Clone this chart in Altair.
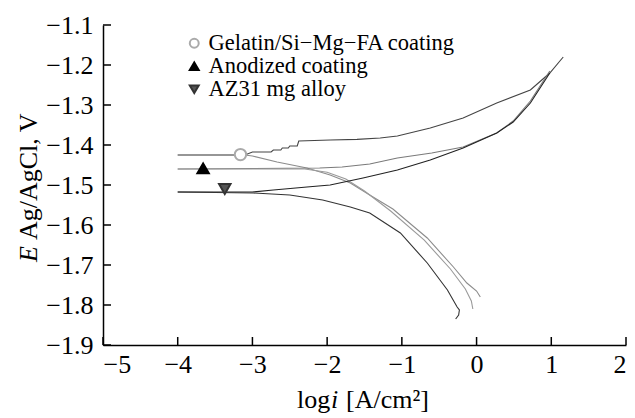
import altair as alt
import pandas as pd

# ---- data ----
gel_an_x = [-4.0, -3.1, -3.0, -2.75, -2.72, -2.62, -2.6, -2.52, -2.5, -2.4, -2.38, -1.96, -1.6, -1.29, -1.06, -0.62, -0.18, 0.27, 0.72, 0.98, 1.16]
gel_an_y = [-1.425, -1.425, -1.4175, -1.4175, -1.4125, -1.4125, -1.4075, -1.4075, -1.4025, -1.4025, -1.39, -1.3875, -1.386, -1.3825, -1.3775, -1.3575, -1.3325, -1.295, -1.2625, -1.22, -1.18]
gel_ca_x = [-4.0, -3.1, -3.0, -2.67, -2.27, -1.96, -1.69, -1.43, -1.12, -0.66, -0.31, -0.13, 0.0, 0.05]
gel_ca_y = [-1.425, -1.425, -1.4275, -1.4425, -1.4575, -1.475, -1.495, -1.525, -1.56, -1.6325, -1.705, -1.745, -1.765, -1.78]

ano_an_x = [-4.0, -2.1, -1.8, -1.43, -1.06, -0.6, -0.18, 0.27, 0.49, 0.72, 0.98]
ano_an_y = [-1.46, -1.4575, -1.455, -1.4475, -1.4325, -1.42, -1.405, -1.37, -1.34, -1.29, -1.215]
ano_ca_x = [-4.0, -2.3, -2.0, -1.75, -1.5, -1.15, -0.7, -0.35, -0.15, -0.07, -0.05]
ano_ca_y = [-1.46, -1.46, -1.468, -1.485, -1.515, -1.565, -1.638, -1.71, -1.76, -1.79, -1.81]

az_an_x = [-4.0, -3.0, -2.72, -2.27, -1.96, -1.52, -1.06, -0.62, -0.18, 0.27, 0.49, 0.72, 0.98]
az_an_y = [-1.5175, -1.5175, -1.5125, -1.505, -1.5, -1.4825, -1.4625, -1.4375, -1.4075, -1.37, -1.3425, -1.295, -1.22]
az_ca_x = [-4.0, -2.99, -2.5, -2.06, -1.69, -1.43, -1.02, -0.66, -0.39, -0.26, -0.23, -0.24, -0.28]
az_ca_y = [-1.5175, -1.52, -1.525, -1.5375, -1.555, -1.57, -1.62, -1.695, -1.7625, -1.805, -1.8125, -1.825, -1.835]

series_names = ["Gelatin/Si\u2212Mg\u2212FA coating", "Anodized coating", "AZ31 mg alloy"]
marker_x = [-3.16, -3.66, -3.37]
marker_y = [-1.424, -1.4585, -1.51]

x_ticks = [-5, -4, -3, -2, -1, 0, 1, 2]
y_ticks = [-1.9, -1.8, -1.7, -1.6, -1.5, -1.4, -1.3, -1.2, -1.1]

# ---- build tables ----
branches = [
    ("gel_an", gel_an_x, gel_an_y),
    ("gel_ca", gel_ca_x, gel_ca_y),
    ("ano_an", ano_an_x, ano_an_y),
    ("ano_ca", ano_ca_x, ano_ca_y),
    ("az_an", az_an_x, az_an_y),
    ("az_ca", az_ca_x, az_ca_y),
]
rows = []
for key, xs, ys in branches:
    for i, (xv, yv) in enumerate(zip(xs, ys)):
        rows.append({"key": key, "order": i, "x": xv, "y": yv})
lines_df = pd.DataFrame(rows)
markers_df = pd.DataFrame({"series": series_names, "x": marker_x, "y": marker_y})
xt_df = pd.DataFrame({"t": x_ticks})
yt_df = pd.DataFrame({"t": y_ticks})

FONT = "Liberation Serif"
W, H = 523, 320

xscale = alt.Scale(domain=[-5, 2], nice=False, zero=False)
yscale = alt.Scale(domain=[-1.9, -1.1], nice=False, zero=False)

x_axis = alt.Axis(values=x_ticks, format="d", title=None, ticks=False, grid=False,
                  labelFont=FONT, labelFontSize=26, labelColor="black", labelOverlap=False,
                  labelPadding=6, domainColor="black", domainWidth=1.5)
y_axis = alt.Axis(values=y_ticks, format=".1f", title=None, ticks=False, grid=False,
                  labelFont=FONT, labelFontSize=26, labelColor="black", labelOverlap=False,
                  labelPadding=10, domainColor="black", domainWidth=1.5)

line_keys = ["gel_an", "gel_ca", "ano_an", "ano_ca", "az_an", "az_ca"]
line_cols = ["#444444", "#8c8c8c", "#7a7a7a", "#9a9a9a", "#222222", "#333333"]

lines = alt.Chart(lines_df).mark_line(strokeWidth=1.1).encode(
    x=alt.X("x:Q", scale=xscale, axis=x_axis),
    y=alt.Y("y:Q", scale=yscale, axis=y_axis),
    color=alt.Color("key:N", scale=alt.Scale(domain=line_keys, range=line_cols), legend=None),
    detail="key:N",
    order="order:Q",
)

leg = alt.Legend(title=None, orient="none", legendX=80, legendY=7,
                 labelFont=FONT, labelFontSize=22.5, labelColor="black", symbolSize=80,
                 symbolStrokeWidth=2, rowPadding=0, labelOffset=3, padding=0, labelLimit=500)

markers = alt.Chart(markers_df).mark_point(filled=True, size=130, strokeWidth=2, opacity=1).encode(
    x=alt.X("x:Q", scale=xscale, axis=x_axis),
    y=alt.Y("y:Q", scale=yscale, axis=y_axis),
    shape=alt.Shape("series:N", scale=alt.Scale(domain=series_names, range=["circle", "triangle-up", "triangle-down"]),
                    legend=leg),
    fill=alt.Fill("series:N", scale=alt.Scale(domain=series_names, range=["white", "black", "#555555"]),
                  legend=leg),
    stroke=alt.Stroke("series:N", scale=alt.Scale(domain=series_names, range=["#aaaaaa", "black", "#333333"]),
                      legend=leg),
)

xticks = alt.Chart(xt_df).mark_rule(color="black", strokeWidth=1.5).encode(
    x=alt.X("t:Q", scale=xscale, axis=x_axis), y=alt.value(H), y2=alt.value(H - 8))
yticks = alt.Chart(yt_df).mark_rule(color="black", strokeWidth=1.5).encode(
    y=alt.Y("t:Q", scale=yscale, axis=y_axis), x=alt.value(0), x2=alt.value(8))

# axis titles (with italic letters)
def txt(s, x, y, italic=False, angle=0):
    return alt.Chart(pd.DataFrame({"s": [s]})).mark_text(
        font=FONT, fontSize=26, fontStyle="italic" if italic else "normal",
        align="left", baseline="alphabetic", angle=angle, color="black"
    ).encode(text="s:N", x=alt.value(x), y=alt.value(y))

xt1 = txt("log", 194, 383)
xt2 = txt("i", 228, 383, italic=True)
xt3 = txt("[A/cm\u00b2]", 243, 383)
yt1 = txt("E", -66, 237, italic=True, angle=270)
yt2 = txt("Ag/AgCl, V", -66, 215, angle=270)

chart = alt.layer(lines, xticks, yticks, markers, xt1, xt2, xt3, yt1, yt2).resolve_scale(
    color="independent"
).properties(
    width=W, height=H,
    background="white",
    autosize=alt.AutoSizeParams(type="none"),
    padding={"left": 103, "top": 25, "right": 9, "bottom": 73},
).configure(font=FONT).configure_view(stroke=None).configure_legend(
    labelFont=FONT, labelFontSize=22.5, labelLimit=500
).configure_axis(labelFont=FONT, labelOverlap=False)

chart.save("out.html", embed_options={"renderer": "svg", "actions": False})
